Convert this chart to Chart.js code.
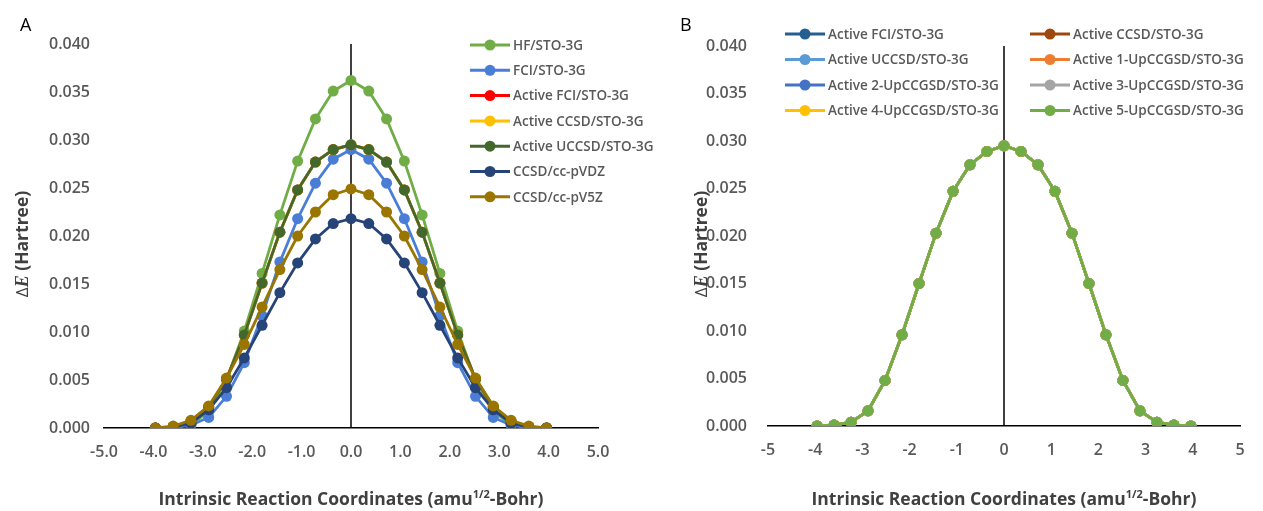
<!DOCTYPE html>
<html>
<head>
<meta charset="utf-8">
<script src="https://cdn.jsdelivr.net/npm/chart.js@4.4.1/dist/chart.umd.min.js"></script>
<style>
  body { margin: 0; background: #fff; width: 1263px; height: 511px; overflow: hidden; position: relative; }
  .box { position: absolute; top: 0; height: 511px; }
  #boxA { left: 0; width: 672px; }
  #boxB { left: 672px; width: 591px; }
</style>
</head>
<body>
<div class="box" id="boxA"><canvas id="chartA"></canvas></div>
<div class="box" id="boxB"><canvas id="chartB"></canvas></div>
<script>
// IRC coordinates (amu^1/2-Bohr)
const irc = [-3.96, -3.60, -3.24, -2.88, -2.52, -2.16, -1.80, -1.44, -1.08, -0.72, -0.36, 0,
  0.36, 0.72, 1.08, 1.44, 1.80, 2.16, 2.52, 2.88, 3.24, 3.60, 3.96];

// panel A energies (Hartree)
const hfSto = [0, 0.0001, 0.0004, 0.0017, 0.0050, 0.0101, 0.0161, 0.0222, 0.0278, 0.0322, 0.0351, 0.0362,
  0.0351, 0.0322, 0.0278, 0.0222, 0.0161, 0.0101, 0.0050, 0.0017, 0.0004, 0.0001, 0];
const fciSto = [0, 0, 0.0003, 0.0011, 0.0033, 0.0068, 0.0117, 0.0173, 0.0218, 0.0255, 0.0280, 0.0290,
  0.0280, 0.0255, 0.0218, 0.0173, 0.0117, 0.0068, 0.0033, 0.0011, 0.0003, 0, 0];
const activeStoA = [0, 0.0001, 0.0007, 0.0022, 0.0051, 0.0097, 0.0151, 0.0204, 0.0248, 0.0277, 0.0290, 0.0295,
  0.0290, 0.0277, 0.0248, 0.0204, 0.0151, 0.0097, 0.0051, 0.0022, 0.0007, 0.0001, 0];
const ccsdVdz = [0, 0.0001, 0.0005, 0.0019, 0.0042, 0.0073, 0.0107, 0.0141, 0.0172, 0.0197, 0.0213, 0.0218,
  0.0213, 0.0197, 0.0172, 0.0141, 0.0107, 0.0073, 0.0042, 0.0019, 0.0005, 0.0001, 0];
const ccsdV5z = [0, 0.0002, 0.0008, 0.0023, 0.0052, 0.0087, 0.0126, 0.0165, 0.0200, 0.0225, 0.0243, 0.0249,
  0.0243, 0.0225, 0.0200, 0.0165, 0.0126, 0.0087, 0.0052, 0.0023, 0.0008, 0.0002, 0];

// panel B energies (all active-space methods coincide)
const activeStoB = [0, 0.0001, 0.0004, 0.0016, 0.0048, 0.0096, 0.0150, 0.0203, 0.0247, 0.0275, 0.0289, 0.0295,
  0.0289, 0.0275, 0.0247, 0.0203, 0.0150, 0.0096, 0.0048, 0.0016, 0.0004, 0.0001, 0];

const namesA = ["HF/STO-3G", "FCI/STO-3G", "Active FCI/STO-3G", "Active CCSD/STO-3G",
  "Active UCCSD/STO-3G", "CCSD/cc-pVDZ", "CCSD/cc-pV5Z"];
const valuesA = [hfSto, fciSto, activeStoA, activeStoA, activeStoA, ccsdVdz, ccsdV5z];
const colorsA = ["#70AD47", "#4A7DD6", "#FF0000", "#FFC000", "#43682B", "#264478", "#9A7500"];

const namesB = ["Active FCI/STO-3G", "Active CCSD/STO-3G", "Active UCCSD/STO-3G", "Active 1-UpCCGSD/STO-3G",
  "Active 2-UpCCGSD/STO-3G", "Active 3-UpCCGSD/STO-3G", "Active 4-UpCCGSD/STO-3G", "Active 5-UpCCGSD/STO-3G"];
const valuesB = [activeStoB, activeStoB, activeStoB, activeStoB, activeStoB, activeStoB, activeStoB, activeStoB];
const colorsB = ["#255E91", "#9E480E", "#5B9BD5", "#ED7D31", "#4472C4", "#A5A5A5", "#FFC000", "#70AD47"];

const xTicks = [-5, -4, -3, -2, -1, 0, 1, 2, 3, 4, 5];
const yTicks = [0, 0.005, 0.010, 0.015, 0.020, 0.025, 0.030, 0.035, 0.040];

const GRAY = "#595959";
const FONT = "'Open Sans', sans-serif";

function makeDatasets(names, values, colors) {
  const n = names.length;
  return names.map((name, i) => ({
    label: name,
    data: irc.map((x, j) => ({ x: x, y: values[i][j] })),
    borderColor: colors[i],
    backgroundColor: colors[i],
    borderWidth: 2.8,
    pointRadius: 5.5,
    pointHoverRadius: 5.5,
    pointBorderWidth: 0,
    tension: 0,
    order: n - 1 - i   // later series drawn on top, like Excel
  }));
}

// draws zero line, axis titles, panel letter and legend
const decor = {
  id: "decor",
  beforeDatasetsDraw(chart) {
    const { ctx, chartArea, scales } = chart;
    const x0 = scales.x.getPixelForValue(0);
    ctx.save();
    ctx.strokeStyle = "#000";
    ctx.lineWidth = 1.5;
    ctx.beginPath();
    ctx.moveTo(x0, chartArea.top);
    ctx.lineTo(x0, chartArea.bottom);
    ctx.stroke();
    ctx.restore();
  },
  afterDraw(chart, args, opts) {
    const { ctx, chartArea } = chart;
    ctx.save();
    // panel letter
    ctx.fillStyle = "#000";
    ctx.font = "18px " + FONT;
    ctx.textBaseline = "alphabetic";
    ctx.textAlign = "left";
    ctx.fillText(opts.letter, opts.letterX, 31);

    // x title with superscript
    ctx.fillStyle = "#404040";
    const bold = "bold 17.5px " + FONT;
    const sup = "bold 11px " + FONT;
    const p1 = "Intrinsic Reaction Coordinates (amu", p2 = "1/2", p3 = "-Bohr)";
    ctx.font = bold; const w1 = ctx.measureText(p1).width, w3 = ctx.measureText(p3).width;
    ctx.font = sup; const w2 = ctx.measureText(p2).width;
    let tx = (chartArea.left + chartArea.right) / 2 - (w1 + w2 + w3) / 2;
    const ty = 505;
    ctx.font = bold; ctx.fillText(p1, tx, ty); tx += w1;
    ctx.font = sup; ctx.fillText(p2, tx, ty - 7); tx += w2;
    ctx.font = bold; ctx.fillText(p3, tx, ty);

    // y title, rotated
    ctx.translate(opts.yTitleX, 244);
    ctx.rotate(-Math.PI / 2);
    const fD = "17px " + FONT, fE = "italic bold 18px 'Liberation Serif', serif", fR = "bold 17.5px " + FONT;
    ctx.font = fD; const wD = ctx.measureText("\u0394").width;
    ctx.font = fE; const wE = ctx.measureText("E").width;
    ctx.font = fR; const wR = ctx.measureText(" (Hartree)").width;
    let yx = -(wD + wE + wR) / 2;
    ctx.font = fD; ctx.fillText("\u0394", yx, 6); yx += wD;
    ctx.font = fE; ctx.fillText("E", yx, 6); yx += wE;
    ctx.font = fR; ctx.fillText(" (Hartree)", yx, 6);
    ctx.restore();

    // legend
    ctx.save();
    ctx.font = "600 13.5px " + FONT;
    ctx.textBaseline = "middle";
    chart.data.datasets.forEach((ds, i) => {
      const col = i % opts.cols, row = Math.floor(i / opts.cols);
      const lx = opts.legendX + col * opts.colGap;
      const ly = opts.legendY + row * opts.rowGap;
      ctx.strokeStyle = ds.borderColor;
      ctx.lineWidth = 3;
      ctx.beginPath();
      ctx.moveTo(lx, ly);
      ctx.lineTo(lx + 40, ly);
      ctx.stroke();
      ctx.fillStyle = ds.borderColor;
      ctx.beginPath();
      ctx.arc(lx + 20, ly, 5.5, 0, Math.PI * 2);
      ctx.fill();
      ctx.fillStyle = GRAY;
      ctx.fillText(ds.label, lx + 43, ly + 1);
    });
    ctx.restore();
  }
};

function makeOptions(area, decorOpts, tickFmt) {
  return {
    responsive: true,
    maintainAspectRatio: false,
    animation: false,
    devicePixelRatio: 1,
    layout: { padding: { top: area.top, right: area.right, left: 0, bottom: 0 } },
    plugins: {
      legend: { display: false },
      tooltip: { enabled: false },
      decor: decorOpts
    },
    scales: {
      x: {
        type: "linear",
        min: -5, max: 5,
        grid: { display: false, drawTicks: false },
        border: { display: true, color: "#000", width: 1.5 },
        afterBuildTicks: (s) => { s.ticks = xTicks.map(v => ({ value: v })); },
        afterFit: (s) => { s.height = area.xHeight; },
        ticks: {
          padding: 15,
          color: GRAY,
          font: { family: FONT, size: 16, weight: "600" },
          maxRotation: 0,
          callback: tickFmt
        }
      },
      y: {
        min: 0, max: 0.04,
        grid: { display: false, drawTicks: false },
        border: { display: false },
        afterBuildTicks: (s) => { s.ticks = yTicks.map(v => ({ value: v })); },
        afterFit: (s) => { s.width = area.yWidth; },
        ticks: {
          padding: area.yPad,
          color: GRAY,
          font: { family: FONT, size: 16, weight: "600" },
          callback: (v) => v.toFixed(3)
        }
      }
    }
  };
}

new Chart(document.getElementById("chartA"), {
  type: "line",
  data: { datasets: makeDatasets(namesA, valuesA, colorsA) },
  options: makeOptions(
    { top: 44, right: 74, xHeight: 83, yWidth: 104, yPad: 14 },
    { letter: "A", letterX: 20, yTitleX: 22, legendX: 470, legendY: 45, rowGap: 25.3, cols: 1, colGap: 0 },
    (v) => Number(v).toFixed(1)
  ),
  plugins: [decor]
});

new Chart(document.getElementById("chartB"), {
  type: "line",
  data: { datasets: makeDatasets(namesB, valuesB, colorsB) },
  options: makeOptions(
    { top: 46, right: 23, xHeight: 85, yWidth: 96, yPad: 21 },
    { letter: "B", letterX: 8, yTitleX: 29, legendX: 113, legendY: 34, rowGap: 25.5, cols: 2, colGap: 245 },
    (v) => String(v)
  ),
  plugins: [decor]
});
</script>
</body>
</html>
